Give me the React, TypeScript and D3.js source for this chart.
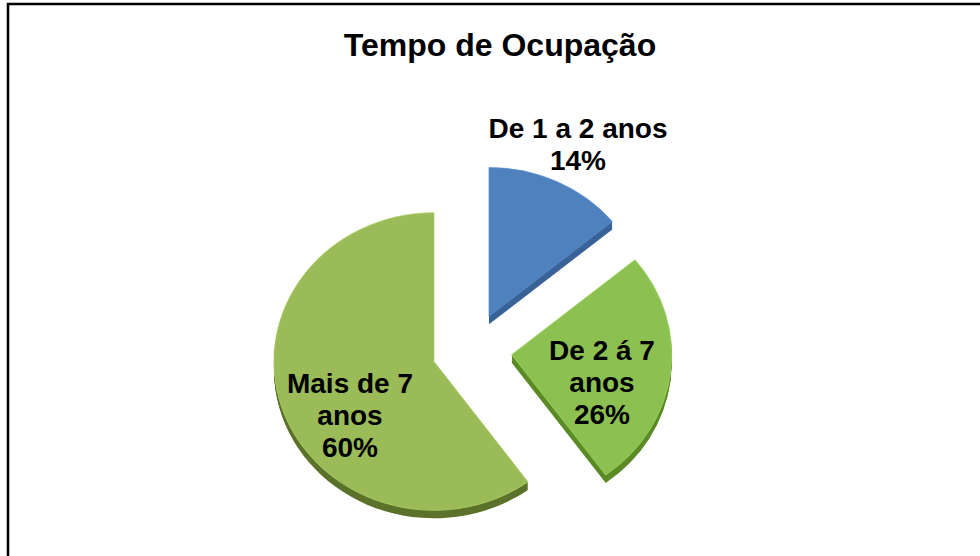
import * as d3 from "d3"

// slices, in drawing order (clockwise from 12 o'clock)
const categories = ["De 1 a 2 anos", "De 2 á 7 anos", "Mais de 7 anos"]
const values = [14, 26, 60]
const labelLines = [["De 1 a 2 anos", "14%"], ["De 2 á 7", "anos", "26%"], ["Mais de 7", "anos", "60%"]]
const topColors = ["#4f81bd", "#8cc152", "#9bbb59"]
const sideColors = ["#3a6397", "#5b8a26", "#5c722b"]

const W = 980
const H = 556
const cx = 472
const cy = 350
const radius = 160
const tilt = 0.93
const explode = 40
const depth = 8
// label anchors (center of first line), relative to page
const labelAnchor = [
  [578, 128],
  [602, 350],
  [350, 383],
]

export default function App() {
  const pie = d3
    .pie<number>()
    .sort(null)
    .startAngle(0)
    .endAngle(2 * Math.PI)
  const arcs = pie(values)
  const arc = d3.arc<d3.PieArcDatum<number>>().innerRadius(0).outerRadius(radius)

  const offset = (a: d3.PieArcDatum<number>) => {
    const mid = (a.startAngle + a.endAngle) / 2
    return [Math.sin(mid) * explode, -Math.cos(mid) * explode * tilt]
  }

  return (
    <svg
      width={W}
      height={H}
      style={{ position: "absolute", left: 0, top: 0, background: "#fff" }}
      fontFamily="'Liberation Sans', Arial, sans-serif"
    >
      <rect x={8} y={4} width={W + 20} height={H + 20} fill="#fff" stroke="#000" strokeWidth={2.5} />
      <text x={500} y={56} textAnchor="middle" fontSize={32} fontWeight="bold" fill="#000">
        Tempo de Ocupação
      </text>

      {arcs.map((a, i) => {
        const [ox, oy] = offset(a)
        return (
          <g key={categories[i]}>
            {d3.range(depth, 0, -1).map((dy) => (
              <path
                key={dy}
                d={arc(a) || ""}
                fill={sideColors[i]}
                transform={`translate(${cx + ox},${cy + oy + dy}) scale(1,${tilt})`}
              />
            ))}
            <path
              d={arc(a) || ""}
              fill={topColors[i]}
              stroke={d3.color(topColors[i])!.brighter(0.3).toString()}
              strokeWidth={0.8}
              transform={`translate(${cx + ox},${cy + oy}) scale(1,${tilt})`}
            />
          </g>
        )
      })}

      {labelLines.map((lines, i) => (
        <text
          key={categories[i]}
          textAnchor="middle"
          fontSize={28}
          fontWeight="bold"
          fill="#000"
        >
          {lines.map((ln, j) => (
            <tspan key={j} x={labelAnchor[i][0]} y={labelAnchor[i][1] + 10 + j * 32}>
              {ln}
            </tspan>
          ))}
        </text>
      ))}
    </svg>
  )
}
